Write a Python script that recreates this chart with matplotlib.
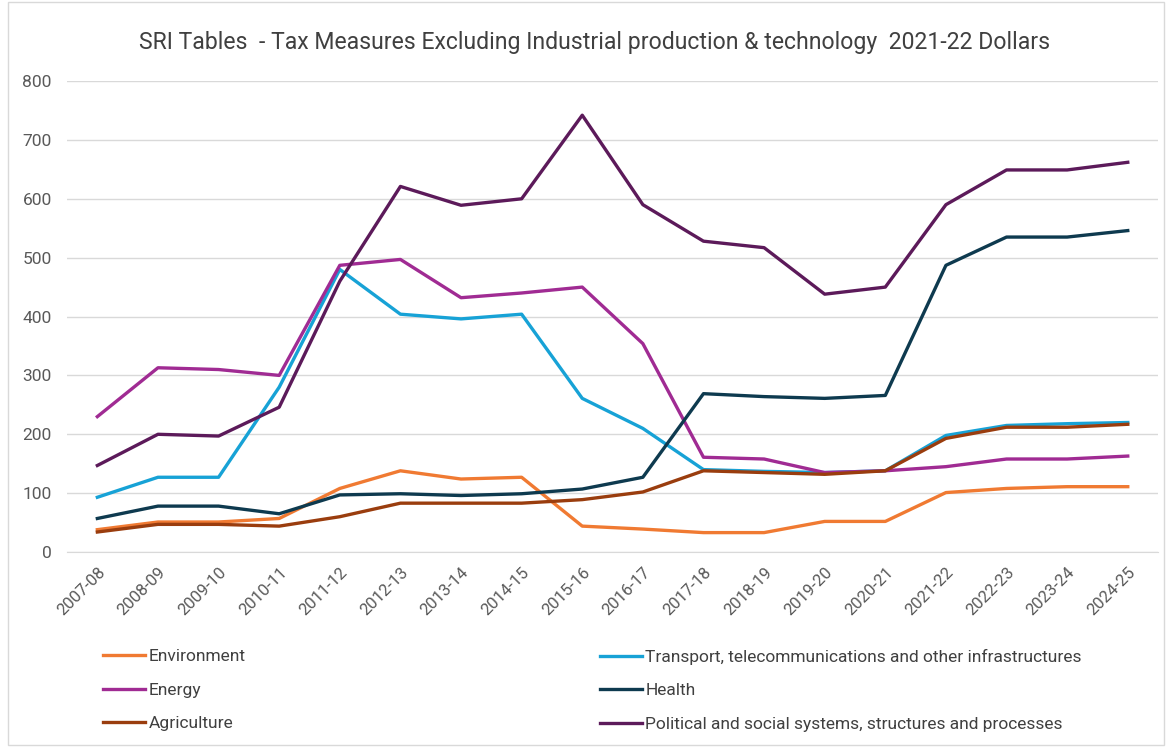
import matplotlib.pyplot as plt
from matplotlib.patches import Rectangle

# financial years on the x axis
years = ['2007-08', '2008-09', '2009-10', '2010-11', '2011-12', '2012-13',
         '2013-14', '2014-15', '2015-16', '2016-17', '2017-18', '2018-19',
         '2019-20', '2020-21', '2021-22', '2022-23', '2023-24', '2024-25']

# values (2021-22 dollars)
environment = [38, 51, 51, 57, 108, 138, 124, 127, 44, 39, 33, 33, 52, 52, 101, 108, 111, 111]
transport = [93, 127, 127, 280, 480, 404, 396, 404, 261, 210, 140, 137, 135, 138, 198, 215, 218, 220]
energy = [230, 313, 310, 300, 487, 497, 432, 440, 450, 354, 161, 158, 135, 138, 145, 158, 158, 163]
health = [57, 78, 78, 65, 97, 99, 96, 99, 107, 127, 269, 264, 261, 266, 487, 535, 535, 546]
agriculture = [34, 47, 47, 44, 60, 83, 83, 83, 89, 102, 138, 135, 132, 138, 193, 212, 212, 217]
political = [147, 200, 197, 246, 460, 621, 589, 600, 742, 590, 528, 517, 438, 450, 590, 649, 649, 662]

plt.rcParams['font.family'] = ['Roboto', 'DejaVu Sans']

fig = plt.figure(figsize=(11.7, 7.47), dpi=100)
ax = fig.add_axes([0.0573, 0.261, 0.9325, 0.6305])

x = range(len(years))
lw = 2.4
l_env, = ax.plot(x, environment, color='#F07A32', lw=lw, label='Environment')
l_tra, = ax.plot(x, transport, color='#17A2D6', lw=lw,
                 label='Transport, telecommunications and other infrastructures')
l_ene, = ax.plot(x, energy, color='#A02B93', lw=lw, label='Energy')
l_hea, = ax.plot(x, health, color='#0E3A4F', lw=lw, label='Health')
l_agr, = ax.plot(x, agriculture, color='#9A3D0E', lw=lw, label='Agriculture')
l_pol, = ax.plot(x, political, color='#5C1A5A', lw=lw,
                 label='Political and social systems, structures and processes')

ax.set_xlim(-0.5, len(years) - 0.5)
ax.set_ylim(0, 800)
ax.set_yticks(range(0, 801, 100))
ax.set_xticks(list(x))
ax.set_xticklabels(years, rotation=45, ha='right', rotation_mode='anchor')
ax.tick_params(axis='both', length=0, colors='#595959', labelsize=12)
ax.tick_params(axis='y', labelsize=12.5, pad=11)
ax.tick_params(axis='x', pad=9)
ax.grid(axis='y', color='#D9D9D9', lw=1)
ax.set_axisbelow(True)
for s in ax.spines.values():
    s.set_visible(False)
ax.spines['bottom'].set_visible(True)
ax.spines['bottom'].set_color('#D9D9D9')

fig.text(0.508, 0.943, 'SRI Tables  - Tax Measures Excluding Industrial production & technology  2021-22 Dollars',
         ha='center', va='center', fontsize=16.6, color='#404040')

leg_kw = dict(frameon=False, fontsize=12.5, handlelength=2.4, handletextpad=0.2,
              labelspacing=1.05, labelcolor='#404040')
fig.legend(handles=[l_env, l_ene, l_agr], loc='upper left',
           bbox_to_anchor=(0.075, 0.152), **leg_kw)
fig.legend(handles=[l_tra, l_hea, l_pol], loc='upper left',
           bbox_to_anchor=(0.4995, 0.152), **leg_kw)

# light frame around the chart
fig.patches.append(Rectangle((0.007, 0.003), 0.988, 0.994, transform=fig.transFigure,
                             fill=False, ec='#D9D9D9', lw=1))

fig.savefig('out.png', dpi=100)
